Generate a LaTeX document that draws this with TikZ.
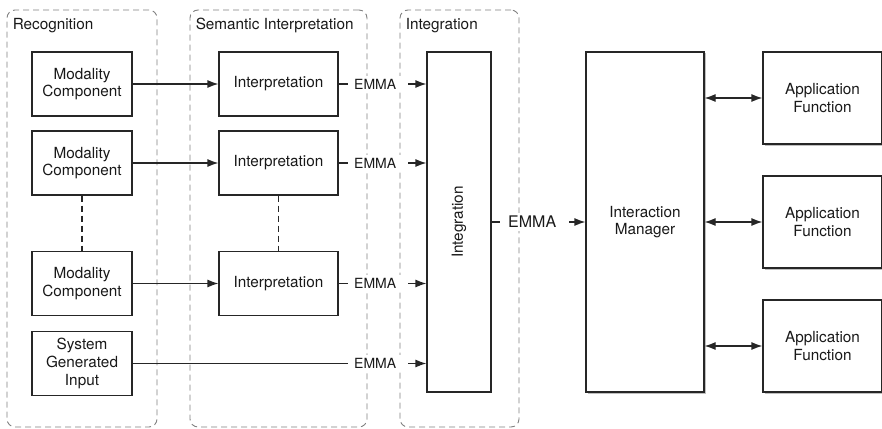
\documentclass[tikz,border=0pt]{standalone}
\usepackage{fontspec}
\setmainfont{TeX Gyre Heros}
\usetikzlibrary{arrows.meta,shadows}

\tikzset{
  unit/.style={draw=black!85, line width=1.2pt, fill=white, align=center, inner sep=0pt, text=black!90},
  grp/.style={draw=black!50, dash pattern=on 6pt off 4pt, line width=0.9pt, rounded corners=8pt, minimum width=#1, minimum height=417pt, inner sep=0pt},
  grplabel/.style={anchor=base west, inner sep=0pt, text=black!90},
  emma/.style={fill=white, anchor=west, inner xsep=6pt, inner ysep=3pt, text=black!90, font=\fontsize{14}{16}\selectfont},
  flow/.style={-{Latex[length=11pt,width=8pt]}, line width=1.2pt, draw=black!85},
  flowboth/.style={{Latex[length=11pt,width=8pt]}-{Latex[length=11pt,width=8pt]}, line width=1.2pt, draw=black!85},
  link/.style={line width=1.2pt, draw=black!85},
  gap/.style={line width=1.2pt, draw=black!85, dash pattern=on 6pt off 4pt},
  shade/.style={drop shadow={shadow xshift=1.5pt, shadow yshift=-1.5pt, opacity=0.25, fill=black}}
}

\begin{document}
\begin{tikzpicture}[x=1pt, y=-1pt, font=\fontsize{15.3}{17.7}\selectfont]
  \useasboundingbox (0,0) rectangle (882,428);

  % dashed stage groups
  \node[grp=150pt] (grpRec) at (82,218.5) {};
  \node[grp=177pt] (grpSem) at (278.5,218.5) {};
  \node[grp=119pt] (grpInt) at (459.5,218.5) {};
  \node[grplabel] (lblRec) at ([xshift=6pt,yshift=-20pt]grpRec.north west) {Recognition};
  \node[grplabel] (lblSem) at ([xshift=6pt,yshift=-20pt]grpSem.north west) {Semantic Interpretation};
  \node[grplabel] (lblInt) at ([xshift=6pt,yshift=-20pt]grpInt.north west) {Integration};

  % recognition
  \node[unit, minimum width=100pt, minimum height=64pt] (mcA) at (82,84) {Modality\\Component};
  \node[unit, minimum width=100pt, minimum height=64pt] (mcB) at (82,163) {Modality\\Component};
  \node[unit, minimum width=100pt, minimum height=64pt] (mcC) at (82,283.5) {Modality\\Component};
  \node[unit, minimum width=100pt, minimum height=64pt] (sgi) at (82,363.5) {System\\Generated\\Input};

  % semantic interpretation
  \node[unit, minimum width=119pt, minimum height=64pt] (intA) at (278.5,84) {Interpretation};
  \node[unit, minimum width=119pt, minimum height=64pt] (intB) at (278.5,163) {Interpretation};
  \node[unit, minimum width=119pt, minimum height=64pt] (intC) at (278.5,283.5) {Interpretation};

  % integration and manager
  \node[unit, minimum width=64pt, minimum height=340pt] (integ) at (459,222) {};
  \node[rotate=90, text=black!90] (integLbl) at (integ.center) {Integration};
  \node[unit, shade, minimum width=118pt, minimum height=340pt] (im) at (645,222) {Interaction\\Manager};

  % application functions
  \node[unit, shade, minimum width=119pt, minimum height=92pt] (afA) at (822.5,98) {Application\\Function};
  \node[unit, shade, minimum width=119pt, minimum height=92pt] (afB) at (822.5,222) {Application\\Function};
  \node[unit, shade, minimum width=119pt, minimum height=92pt] (afC) at (822.5,346) {Application\\Function};

  % EMMA labels
  \node[emma] (emA) at (348,84) {EMMA};
  \node[emma] (emB) at (348,163) {EMMA};
  \node[emma] (emC) at (348,283.5) {EMMA};
  \node[emma] (emD) at (348,363.5) {EMMA};
  \node[emma, inner xsep=8pt, font=\fontsize{16}{18}\selectfont] (emMain) at (500,222) {EMMA};

  % connectors
  \draw[flow] (mcA) -- (intA);
  \draw[flow] (mcB) -- (intB);
  \draw[flow] (mcC) -- (intC);
  \draw[gap] (mcB) -- (mcC);
  \draw[gap] (intB) -- (intC);

  \draw[link] (intA) -- (emA);
  \draw[link] (intB) -- (emB);
  \draw[link] (intC) -- (emC);
  \draw[link] (sgi) -- (emD);
  \draw[flow] ([xshift=6pt]emA.east) -- (emA.east -| integ.west);
  \draw[flow] ([xshift=6pt]emB.east) -- (emB.east -| integ.west);
  \draw[flow] ([xshift=6pt]emC.east) -- (emC.east -| integ.west);
  \draw[flow] ([xshift=6pt]emD.east) -- (emD.east -| integ.west);

  \draw[link] (integ) -- (emMain);
  \draw[flow] ([xshift=5pt]emMain.east) -- (im);

  \draw[flowboth] (im.east |- afA.west) -- (afA.west);
  \draw[flowboth] (im.east |- afB.west) -- (afB.west);
  \draw[flowboth] (im.east |- afC.west) -- (afC.west);
\end{tikzpicture}
\end{document}
